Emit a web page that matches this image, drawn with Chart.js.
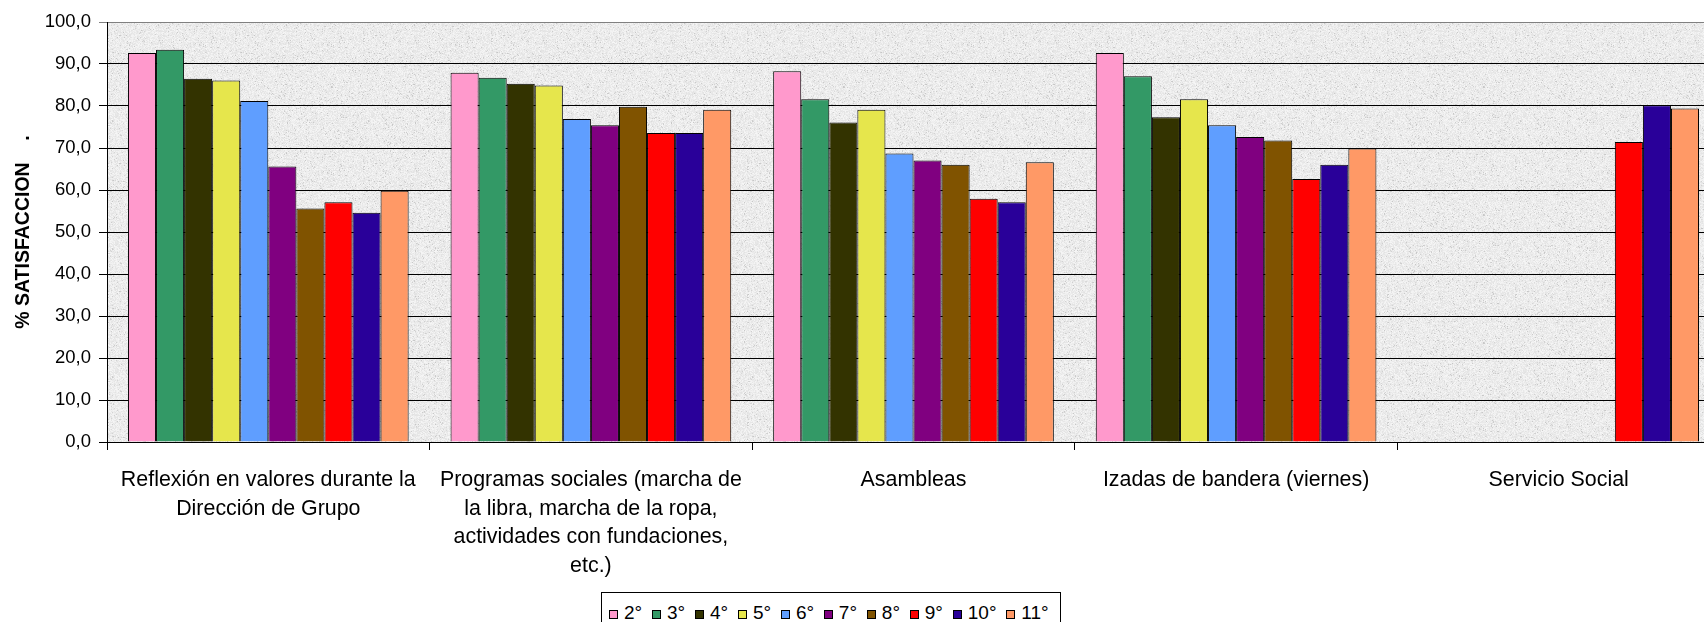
<!DOCTYPE html>
<html>
<head>
<meta charset="utf-8">
<script src="https://cdn.jsdelivr.net/npm/chart.js@4.4.1/dist/chart.umd.min.js"></script>
<style>
  html, body { margin: 0; padding: 0; overflow: hidden; background: #fff; width: 1704px; height: 622px; }
  #chart { position: absolute; left: 0; top: 0; }
  #legend {
    position: absolute; left: 601px; top: 592px; width: 460px; height: 50px;
    border: 1px solid #000; box-sizing: border-box; background: #fff;
    font-family: "Liberation Sans", Arial, sans-serif; font-size: 19px; color: #000;
    display: flex; align-items: flex-start; padding: 9.7px 0 0 7px;
  }
  .item { display: flex; align-items: baseline; line-height: 20px; white-space: nowrap; margin-right: 9.8px; }
  .sw { display: inline-block; width: 9px; height: 9px; border: 1px solid #000; box-sizing: border-box; margin-right: 6px; }
</style>
</head>
<body>
<canvas id="chart" width="1720" height="622"></canvas>
<div id="legend"></div>
<script>
// ---- data ----
const categories = [
  ["Reflexión en valores durante la", "Dirección de Grupo"],
  ["Programas sociales (marcha de", "la libra, marcha de la ropa,", "actividades con fundaciones,", "etc.)"],
  "Asambleas",
  "Izadas de bandera (viernes)",
  "Servicio Social"
];
const grades = ["2°", "3°", "4°", "5°", "6°", "7°", "8°", "9°", "10°", "11°"];
const g2  = [92.6, 87.9, 88.3, 92.6, null];
const g3  = [93.4, 86.7, 81.6, 87.1, null];
const g4  = [86.5, 85.3, 76.1, 77.3, null];
const g5  = [86.1, 84.9, 79.1, 81.6, null];
const g6  = [81.2, 76.9, 68.7, 75.4, null];
const g7  = [65.6, 75.4, 67.0, 72.6, null];
const g8  = [55.6, 79.8, 66.0, 71.8, null];
const g9  = [57.1, 73.6, 57.9, 62.6, 71.4];
const g10 = [54.6, 73.6, 57.1, 66.0, 80.2];
const g11 = [59.8, 79.1, 66.6, 69.9, 79.4];
const yTickLabels = ["0,0", "10,0", "20,0", "30,0", "40,0", "50,0", "60,0", "70,0", "80,0", "90,0", "100,0"];
const yTitle = "% SATISFACCION    .";

// ---- styles ----
const seriesValues = [g2, g3, g4, g5, g6, g7, g8, g9, g10, g11];
const colors = ["#FF99CC", "#339966", "#333300", "#E6E64C", "#5F9EFF", "#800080", "#805300", "#FF0000", "#290099", "#FF9966"];
const FONT = '"Liberation Sans", Arial, sans-serif';

function makeTexture() {
  const c = document.createElement('canvas');
  c.width = 128; c.height = 128;
  const x = c.getContext('2d');
  const img = x.createImageData(128, 128);
  for (let i = 0; i < 128 * 128; i++) {
    let h = Math.imul(i + 12345, 2654435761) >>> 0;
    h ^= h >>> 13; h = Math.imul(h, 0x5bd1e995) >>> 0; h ^= h >>> 15;
    let v = 236 + Math.round(((h & 255) / 255 - 0.5) * 20);
    if (((h >>> 8) & 255) < 14) v -= 28;
    img.data[i * 4] = img.data[i * 4 + 1] = img.data[i * 4 + 2] = v;
    img.data[i * 4 + 3] = 255;
  }
  x.putImageData(img, 0, 0);
  return x.createPattern(c, 'repeat');
}

const bgPlugin = {
  id: 'plotBg',
  beforeDraw(chart) {
    const { ctx, chartArea: a } = chart;
    if (!this.pat) this.pat = makeTexture();
    ctx.save();
    ctx.fillStyle = this.pat;
    ctx.fillRect(a.left, a.top, a.right - a.left, a.bottom - a.top);
    ctx.restore();
  }
};

const datasets = grades.map((g, i) => ({
  label: g,
  data: seriesValues[i],
  backgroundColor: colors[i],
  borderColor: '#000',
  borderWidth: 1,
  barPercentage: 1.0,
  categoryPercentage: 0.87
}));

new Chart(document.getElementById('chart'), {
  type: 'bar',
  data: { labels: categories, datasets },
  plugins: [bgPlugin],
  options: {
    responsive: false,
    animation: false,
    layout: { padding: { top: 22, left: 0, right: 0, bottom: 0 } },
    plugins: { legend: { display: false }, tooltip: { enabled: false } },
    scales: {
      x: {
        grid: { offset: true, drawOnChartArea: false, drawTicks: true, tickLength: 8, color: '#000', lineWidth: 1 },
        border: { display: true, color: '#000', width: 1 },
        ticks: {
          autoSkip: false, maxRotation: 0, minRotation: 0, padding: 16, color: '#000',
          font: { family: FONT, size: 21.4, lineHeight: 1.33 }
        },
        afterFit(s) { s.height = 180; }
      },
      y: {
        min: 0, max: 100,
        ticks: {
          stepSize: 10, padding: 8, color: '#000',
          font: { family: FONT, size: 18.5 },
          callback: (v) => yTickLabels[Math.round(v / 10)]
        },
        grid: {
          color: (c) => (c.tick && c.tick.value === 100) ? '#808080' : '#000',
          lineWidth: 1, tickLength: 8
        },
        border: { display: true, color: '#000', width: 1 },
        title: {
          display: true, text: yTitle, color: '#000',
          font: { family: FONT, size: 19.5, weight: 'bold' },
          padding: { top: 12.3, bottom: 0 }
        },
        afterFit(s) { s.width = 107; }
      }
    }
  }
});

// HTML legend
const lg = document.getElementById('legend');
grades.forEach((g, i) => {
  const it = document.createElement('div');
  it.className = 'item';
  const sw = document.createElement('span');
  sw.className = 'sw';
  sw.style.background = colors[i];
  it.appendChild(sw);
  it.appendChild(document.createTextNode(g));
  lg.appendChild(it);
});
</script>
</body>
</html>
